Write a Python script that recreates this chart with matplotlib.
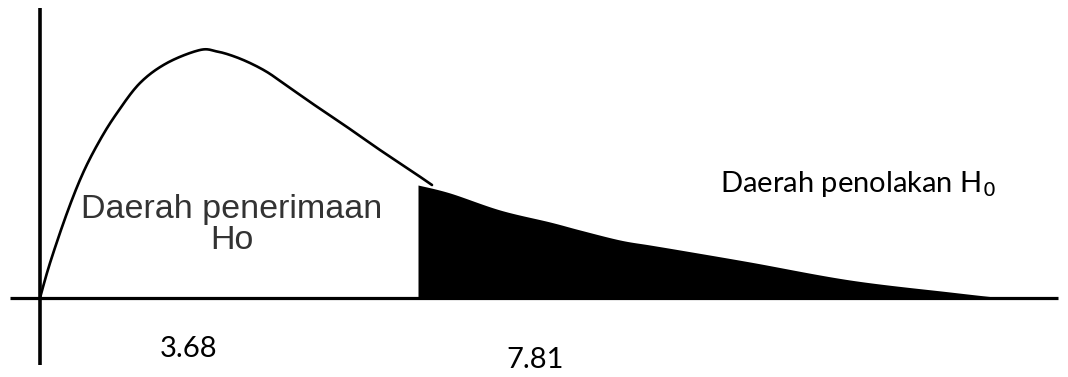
import matplotlib
matplotlib.use("Agg")
import matplotlib.pyplot as plt
import numpy as np

# kurva (posisi x, tinggi di atas sumbu)
curve_x = [0, 10, 27, 43, 60, 77, 100, 127, 160, 177, 193, 210, 227, 243, 273, 307, 340, 373, 392]
curve_y = [0, 35, 85, 125, 158, 185, 215, 235, 248, 246.5, 242, 235, 226, 215, 194, 171, 148, 126, 113]

# daerah penolakan (diarsir hitam)
shade_x = [378, 410, 460, 510, 540, 580, 610, 640, 710, 810, 910, 965, 980]
shade_y = [113, 105, 88, 76, 68, 58, 53, 48, 36, 18, 6, 0, 0]

label_left = "Daerah penerimaan\nHo"
label_right = "Daerah penolakan H$_0$"
tick_vals = ["3.68", "7.81"]
tick_pos = [149, 495]
tick_h = [-51, -62]


def smooth(xs, ys, n=20):
    # catmull-rom, hanya untuk menghaluskan garis
    p = np.column_stack([xs, ys]).astype(float)
    p = np.vstack([p[0], p, p[-1]])
    out = []
    t = np.linspace(0, 1, n, endpoint=False)[:, None]
    for i in range(1, len(p) - 2):
        p0, p1, p2, p3 = p[i - 1], p[i], p[i + 1], p[i + 2]
        seg = 0.5 * ((2 * p1) + (-p0 + p2) * t + (2 * p0 - 5 * p1 + 4 * p2 - p3) * t ** 2
                     + (-p0 + 3 * p1 - 3 * p2 + p3) * t ** 3)
        out.append(seg)
    out.append(p[-2][None, :])
    out = np.vstack(out)
    return out[:, 0], out[:, 1]


fig = plt.figure(figsize=(10.68, 3.77), dpi=100)
ax = fig.add_axes([0, 0, 1, 1])
ax.set_xlim(-40, 1028)
ax.set_ylim(-79, 298)
ax.axis("off")

# sumbu
ax.plot([-30, 1018], [0, 0], color="black", lw=2.3, solid_capstyle="butt")
ax.plot([0, 0], [-67, 290], color="black", lw=2.6, solid_capstyle="butt")

cx, cy = smooth(curve_x, curve_y)
ax.plot(cx, cy, color="black", lw=1.9, solid_capstyle="round")
sx, sy = smooth(shade_x, shade_y)
ax.fill_between(sx, 0, sy, color="black", lw=0)

ax.text(192, 73, label_left, ha="center", va="center", fontsize=24.5,
        family="Liberation Sans", color="#333333", linespacing=1.0)
ax.text(680, 106, label_right, ha="left", va="baseline", fontsize=21,
        family="Lato", color="black")
for p, t, h in zip(tick_pos, tick_vals, tick_h):
    ax.text(p, h, t, ha="center", va="center",
            fontsize=21, family="Lato", color="black")

fig.savefig("out.png", dpi=100)
